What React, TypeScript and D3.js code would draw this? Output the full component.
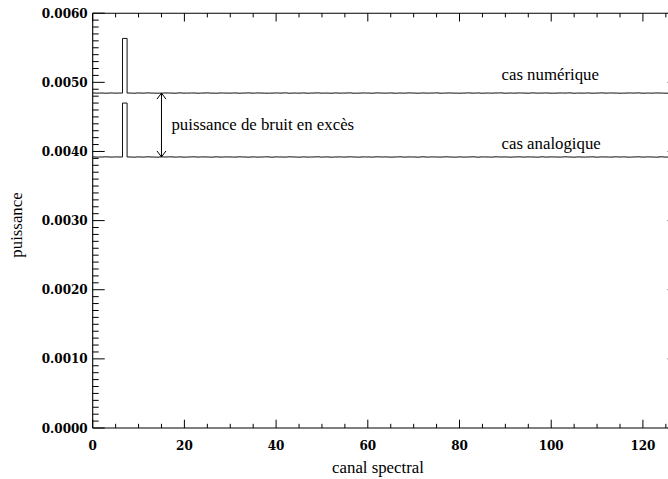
import React from "react";
import * as d3 from "d3";

// Power per spectral channel (units of 1e-6), channels 0..127
const numerique: number[] = [
  4846, 4844, 4845, 4843, 4846, 4844, 4845, 5635, 4845, 4843, 4846, 4844, 4847, 4845, 4843, 4844,
  4846, 4845, 4843, 4847, 4844, 4845, 4846, 4843, 4845, 4847, 4844, 4843, 4846, 4845, 4844, 4846,
  4843, 4845, 4847, 4844, 4846, 4845, 4843, 4844, 4846, 4845, 4847, 4843, 4845, 4844, 4846, 4843,
  4845, 4847, 4844, 4845, 4843, 4846, 4844, 4845, 4847, 4843, 4844, 4846, 4845, 4843, 4847, 4845,
  4844, 4846, 4843, 4845, 4844, 4847, 4845, 4843, 4846, 4844, 4845, 4847, 4843, 4845, 4846, 4844,
  4843, 4845, 4847, 4844, 4846, 4843, 4845, 4844, 4846, 4847, 4843, 4845, 4844, 4846, 4845, 4843,
  4847, 4844, 4845, 4846, 4843, 4844, 4846, 4845, 4847, 4843, 4845, 4844, 4846, 4843, 4845, 4847,
  4844, 4846, 4845, 4843, 4844, 4846, 4845, 4847, 4843, 4845, 4844, 4846, 4845, 4843, 4846, 4844,
];
const analogique: number[] = [
  3921, 3919, 3920, 3922, 3919, 3921, 3920, 4700, 3920, 3918, 3921, 3919, 3922, 3920, 3918, 3921,
  3920, 3922, 3919, 3921, 3918, 3920, 3922, 3919, 3921, 3920, 3918, 3922, 3919, 3921, 3920, 3919,
  3922, 3920, 3918, 3921, 3919, 3920, 3922, 3918, 3921, 3920, 3919, 3922, 3920, 3918, 3921, 3919,
  3920, 3922, 3919, 3921, 3918, 3920, 3921, 3919, 3922, 3920, 3918, 3921, 3920, 3919, 3922, 3920,
  3921, 3918, 3920, 3922, 3919, 3921, 3920, 3918, 3922, 3919, 3921, 3920, 3919, 3922, 3920, 3918,
  3921, 3919, 3920, 3922, 3918, 3921, 3920, 3919, 3922, 3920, 3921, 3918, 3920, 3922, 3919, 3921,
  3920, 3918, 3922, 3919, 3921, 3920, 3919, 3922, 3920, 3918, 3921, 3919, 3920, 3922, 3918, 3921,
  3920, 3919, 3922, 3920, 3921, 3918, 3920, 3922, 3919, 3921, 3920, 3918, 3922, 3919, 3921, 3920,
];

const xMajorTicks = [0, 20, 40, 60, 80, 100, 120];
const yMajorTicks = [0, 0.001, 0.002, 0.003, 0.004, 0.005, 0.006];
const xTickLabels = ["0", "20", "40", "60", "80", "100", "120"];
const yTickLabels = ["0.0000", "0.0010", "0.0020", "0.0030", "0.0040", "0.0050", "0.0060"];

const seriesLabels = ["cas numérique", "cas analogique"];
const annotationText = "puissance de bruit en excès";
const arrowChannel = 15;
const xTitle = "canal spectral";
const yTitle = "puissance";

const W = 668;
const H = 479;
const left = 92.7;
const right = 679.6;
const top = 13.2;
const bottom = 428;

export default function App() {
  const x = d3.scaleLinear().domain([0, 128]).range([left, right]);
  const y = d3.scaleLinear().domain([0, 0.006]).range([bottom, top]);

  const xMinor = d3.range(0, 128.01, 5).filter((v) => v % 20 !== 0);
  const yMinor = d3.range(0, 61).map((v) => v / 10000).filter((_, i) => i % 10 !== 0);

  const line = d3
    .line<number>()
    .x((_, i) => x(i))
    .y((d) => y(d * 1e-6))
    .curve(d3.curveStep);

  const yMajLen = 12;
  const yMinLen = 6;
  const xMajLen = 8.3;
  const xMinLen = 4.2;

  const tickFont = "DejaVu Serif";
  const textFont = "'Times New Roman', 'Liberation Serif', serif";
  const stroke = "#000";

  const ax = x(arrowChannel);
  const aTop = y(numerique[arrowChannel] * 1e-6);
  const aBot = y(analogique[arrowChannel] * 1e-6);

  return (
    <svg
      width={W}
      height={H}
      style={{ position: "absolute", left: 0, top: 0, background: "#fff" }}
      xmlns="http://www.w3.org/2000/svg"
    >
      <rect x={0} y={0} width={W} height={H} fill="#fff" />
      {/* frame */}
      <g stroke={stroke} strokeWidth={1.1} fill="none">
        <line x1={left} y1={bottom} x2={right} y2={bottom} />
        <line x1={left} y1={top} x2={right} y2={top} />
        <line x1={left} y1={top} x2={left} y2={bottom} />
        <line x1={right} y1={top} x2={right} y2={bottom} />
      </g>
      {/* ticks */}
      <g stroke={stroke} strokeWidth={1}>
        {xMajorTicks.map((t) => (
          <g key={"xm" + t}>
            <line x1={x(t)} x2={x(t)} y1={bottom} y2={bottom - xMajLen} />
            <line x1={x(t)} x2={x(t)} y1={top} y2={top + xMajLen} />
          </g>
        ))}
        {xMinor.map((t) => (
          <g key={"xn" + t}>
            <line x1={x(t)} x2={x(t)} y1={bottom} y2={bottom - xMinLen} />
            <line x1={x(t)} x2={x(t)} y1={top} y2={top + xMinLen} />
          </g>
        ))}
        {yMajorTicks.map((t) => (
          <g key={"ym" + t}>
            <line x1={left} x2={left + yMajLen} y1={y(t)} y2={y(t)} />
            <line x1={right} x2={right - yMajLen} y1={y(t)} y2={y(t)} />
          </g>
        ))}
        {yMinor.map((t) => (
          <g key={"yn" + t}>
            <line x1={left} x2={left + yMinLen} y1={y(t)} y2={y(t)} />
            <line x1={right} x2={right - yMinLen} y1={y(t)} y2={y(t)} />
          </g>
        ))}
      </g>
      {/* tick labels */}
      <g fontFamily={tickFont} fontWeight="bold" fontSize={12} fill="#000">
        {xMajorTicks.map((t, i) => (
          <text key={"xl" + t} x={x(t)} y={bottom + 22} textAnchor="middle">
            {xTickLabels[i]}
          </text>
        ))}
        {yMajorTicks.map((t, i) => (
          <text key={"yl" + t} x={left - 5} y={y(t) + 4.5} textAnchor="end">
            {yTickLabels[i]}
          </text>
        ))}
      </g>
      {/* data */}
      <path d={line(numerique) || ""} fill="none" stroke="#111" strokeWidth={1} />
      <path d={line(analogique) || ""} fill="none" stroke="#111" strokeWidth={1} />
      {/* arrow */}
      <g stroke="#000" strokeWidth={1} fill="none">
        <line x1={ax} x2={ax} y1={aTop} y2={aBot} />
        <polyline points={`${ax - 4.5},${aTop + 6} ${ax},${aTop} ${ax + 4.5},${aTop + 6}`} />
        <polyline points={`${ax - 4.5},${aBot - 6} ${ax},${aBot} ${ax + 4.5},${aBot - 6}`} />
      </g>
      <g fontFamily={textFont} fontSize={16.8} fill="#000">
        <text x={ax + 10} y={(aTop + aBot) / 2 + 5}>
          {annotationText}
        </text>
        <text x={501.5} y={80}>{seriesLabels[0]}</text>
        <text x={501.5} y={149}>{seriesLabels[1]}</text>
        <text x={378} y={473} textAnchor="middle">
          {xTitle}
        </text>
        <text transform={`translate(22, 225) rotate(-90)`} textAnchor="middle">
          {yTitle}
        </text>
      </g>
    </svg>
  );
}
